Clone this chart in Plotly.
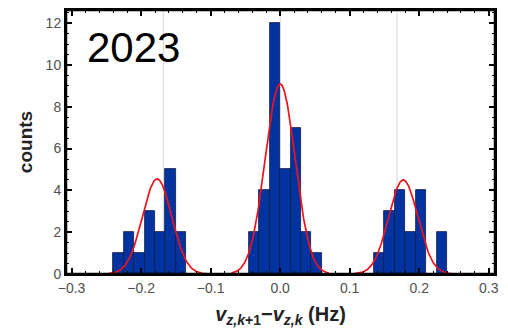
import numpy as np
import plotly.graph_objects as go

# ---- data ----
bin_width = 0.015
left_edges = [-0.24, -0.225, -0.21, -0.195, -0.18, -0.165, -0.15,
              -0.045, -0.03, -0.015, 0.0, 0.015, 0.03, 0.045,
              0.135, 0.15, 0.165, 0.18, 0.195, 0.21, 0.225]
counts = [1, 2, 1, 3, 2, 5, 2,
          2, 4, 12, 5, 7, 2, 1,
          1, 3, 4, 2, 4, 0, 2]

# Gaussian fit parameters (center, peak height, sigma)
fit_centers = [-0.177, 0.0, 0.177]
fit_peaks = [4.55, 9.1, 4.5]
fit_sigmas = [0.021, 0.0215, 0.021]

guide_lines = [-0.168, 0.0, 0.168]

x_ticks = [-0.3, -0.2, -0.1, 0.0, 0.1, 0.2, 0.3]
x_ticklabels = ["\u22120.3", "\u22120.2", "\u22120.1", "0.0", "0.1", "0.2", "0.3"]
y_ticks = [0, 2, 4, 6, 8, 10, 12]

fig = go.Figure()

centers = [e + bin_width / 2 for e in left_edges]
fig.add_trace(go.Bar(
    x=centers, y=counts, width=bin_width,
    marker=dict(color="rgb(0,51,160)", line=dict(color="rgb(20,25,70)", width=0.8)),
    showlegend=False, hoverinfo="skip"))

for c, p, s in zip(fit_centers, fit_peaks, fit_sigmas):
    xs = np.linspace(c - 0.07, c + 0.07, 200)
    ys = p * np.exp(-0.5 * ((xs - c) / s) ** 2)
    fig.add_trace(go.Scatter(x=xs, y=ys, mode="lines",
                             line=dict(color="rgb(235,20,30)", width=1.7),
                             showlegend=False, hoverinfo="skip"))

for g in guide_lines:
    fig.add_shape(type="line", x0=g, x1=g, y0=0, y1=1, yref="paper", xref="x",
                  line=dict(color="rgb(215,215,215)", width=1), layer="below")

# frame
fig.add_shape(type="rect", xref="paper", yref="paper", x0=0, x1=1, y0=0, y1=1,
              line=dict(color="black", width=2.5), fillcolor="rgba(0,0,0,0)", layer="above")

fig.add_annotation(text="2023", xref="paper", yref="paper",
                   x=(133 - 66) / (495 - 66), y=(274 - 47) / (274 - 10),
                   xanchor="center", yanchor="middle", showarrow=False,
                   font=dict(family="Liberation Sans, Arial", size=42, color="black"))

fig.update_layout(
    width=508, height=331,
    margin=dict(l=66, r=13, t=10, b=57, autoexpand=False),
    paper_bgcolor="white", plot_bgcolor="white",
    bargap=0,
    font=dict(family="Liberation Sans, Arial", color="rgb(80,80,80)", size=14),
    xaxis=dict(range=[-0.308, 0.309], tickvals=x_ticks, ticktext=x_ticklabels,
               automargin=False,
               ticks="inside", ticklen=6, tickwidth=1.5, tickcolor="black",
               minor=dict(dtick=0.02, ticks="inside", ticklen=3, tickcolor="black", tickwidth=1),
               showline=True, linecolor="black", linewidth=2, mirror="allticks",
               showgrid=False, zeroline=False,
               title=dict(text="<b><i>v</i><sub><i>z,k</i>+1</sub>\u2212<i>v</i><sub><i>z,k</i></sub> (Hz)</b>",
                          font=dict(size=20, color="rgb(35,35,35)"), standoff=12)),
    yaxis=dict(range=[0, 12.63], tickvals=y_ticks,
               automargin=False,
               ticks="inside", ticklen=6, tickwidth=1.5, tickcolor="black",
               minor=dict(dtick=0.5, ticks="inside", ticklen=3, tickcolor="black", tickwidth=1),
               showline=True, linecolor="black", linewidth=2, mirror="allticks",
               showgrid=False, zeroline=False,
               title=dict(text="<b>counts</b>", font=dict(size=19, color="rgb(35,35,35)"), standoff=8)),
)

fig.write_html("out.html", config={"displayModeBar": False},
               post_script="document.body.style.margin='0';document.body.style.padding='0';document.documentElement.style.overflow='hidden';")
